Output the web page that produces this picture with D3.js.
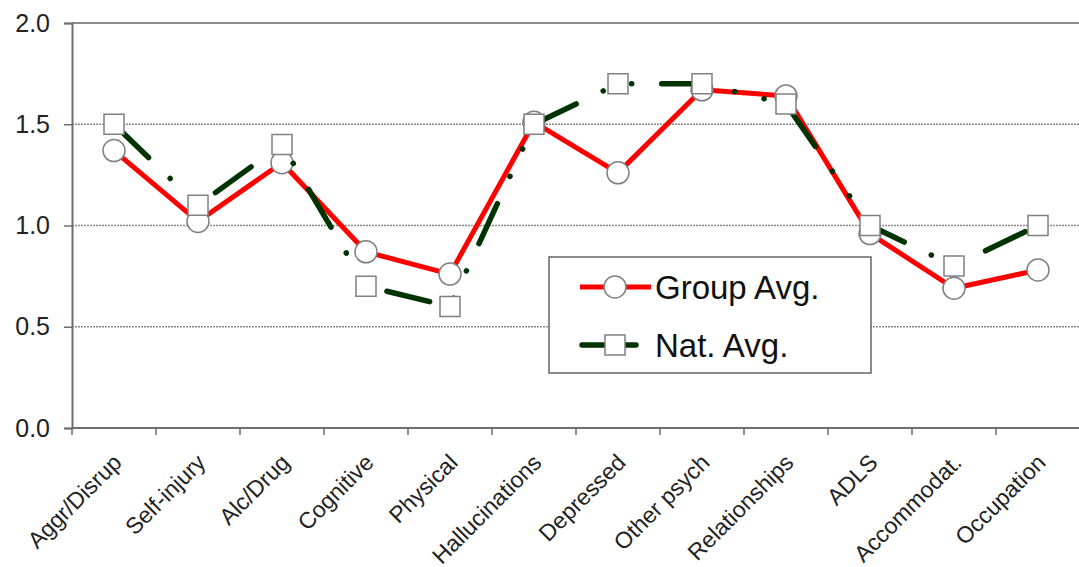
<!DOCTYPE html>
<html><head><meta charset="utf-8">
<script src="https://cdn.jsdelivr.net/npm/d3@7"></script>
<style>html,body{margin:0;padding:0;background:#fff;}svg{display:block;}</style>
</head><body>
<svg id="chart" width="1079" height="567"></svg>
<script>
const categories = ["Aggr/Disrup","Self-injury","Alc/Drug","Cognitive","Physical","Hallucinations","Depressed","Other psych","Relationships","ADLS","Accommodat.","Occupation"];
const groupAvg = [1.37,1.02,1.31,0.87,0.76,1.51,1.26,1.67,1.64,0.96,0.69,0.78];
const natAvg   = [1.5,1.1,1.4,0.7,0.6,1.5,1.7,1.7,1.6,1.0,0.8,1.0];
const yTicks = [0,0.5,1.0,1.5,2.0];
const seriesNames = ["Group Avg.","Nat. Avg."];

(function(){
const svg = d3.select("#chart");
const pL = 72, pR = 1080, pT = 23, pB = 428;
const font = "'Liberation Sans', Arial, sans-serif";

const x = d3.scaleBand().domain(categories).range([pL,pR]).paddingInner(0).paddingOuter(0);
const y = d3.scaleLinear().domain([0,2]).range([pB,pT]);
const cx = d => x(d) + x.bandwidth()/2;

// gridlines
svg.append("g").selectAll("line").data(yTicks.filter(t=>t>0 && t<2)).join("line")
  .attr("x1",pL).attr("x2",1079).attr("y1",d=>y(d)).attr("y2",d=>y(d))
  .attr("stroke","#8a8a8a").attr("stroke-width",1.5).attr("stroke-dasharray","2,1");
// top border
svg.append("line").attr("x1",pL).attr("x2",1079).attr("y1",y(2)).attr("y2",y(2))
  .attr("stroke","#8a8a8a").attr("stroke-width",2);

// y axis
const yAxis = d3.axisLeft(y).tickValues(yTicks).tickFormat(d3.format(".1f")).tickSize(8).tickPadding(14);
const gy = svg.append("g").attr("transform",`translate(${pL},0)`).call(yAxis);
gy.select(".domain").attr("stroke","#6e6e6e").attr("stroke-width",2);
gy.selectAll(".tick line").attr("stroke","#6e6e6e").attr("stroke-width",1.5);
gy.selectAll("text").attr("font-family",font).attr("font-size",25).attr("fill","#222");

// x axis
const gx = svg.append("g").attr("transform",`translate(0,${pB})`);
gx.append("line").attr("x1",pL).attr("x2",1079).attr("stroke","#6e6e6e").attr("stroke-width",2);
gx.selectAll(".tk").data(categories).join("line").attr("class","tk")
  .attr("x1",d=>x(d)).attr("x2",d=>x(d)).attr("y1",0).attr("y2",7)
  .attr("stroke","#6e6e6e").attr("stroke-width",1.5);
gx.selectAll(".lbl").data(categories).join("text").attr("class","lbl")
  .attr("transform",d=>`translate(${cx(d)+9},${36}) rotate(-45)`)
  .attr("text-anchor","end").attr("font-family",font).attr("font-size",23).attr("fill","#222")
  .text(d=>d);

// lines
const lineGen = vals => d3.line().x((d,i)=>cx(categories[i])).y(d=>y(d))(vals);
svg.append("path").attr("d",lineGen(groupAvg)).attr("fill","none")
  .attr("stroke","#ff0000").attr("stroke-width",5).attr("stroke-linejoin","round");
svg.append("g").selectAll("circle").data(groupAvg).join("circle")
  .attr("cx",(d,i)=>cx(categories[i])).attr("cy",d=>y(d)).attr("r",11)
  .attr("fill","#fff").attr("stroke","#808080").attr("stroke-width",1.5);

svg.append("path").attr("d",lineGen(natAvg)).attr("fill","none")
  .attr("stroke","#003300").attr("stroke-width",5.5).attr("stroke-linecap","round")
  .attr("stroke-dasharray","44,30,0.1,30,0.1,30").attr("stroke-dashoffset",-4);
svg.append("g").selectAll("rect").data(natAvg).join("rect")
  .attr("x",(d,i)=>cx(categories[i])-10).attr("y",d=>y(d)-10).attr("width",20).attr("height",20)
  .attr("fill","#fff").attr("stroke","#808080").attr("stroke-width",1.5);

// legend
const lg = svg.append("g");
lg.append("rect").attr("x",549).attr("y",257).attr("width",322).attr("height",116)
  .attr("fill","#fff").attr("stroke","#666").attr("stroke-width",1.5);
lg.append("line").attr("x1",580).attr("x2",651).attr("y1",287).attr("y2",287)
  .attr("stroke","#ff0000").attr("stroke-width",5);
lg.append("circle").attr("cx",615).attr("cy",287).attr("r",11)
  .attr("fill","#fff").attr("stroke","#808080").attr("stroke-width",1.5);
lg.append("line").attr("x1",582).attr("x2",636).attr("y1",345).attr("y2",345)
  .attr("stroke","#003300").attr("stroke-width",5.5).attr("stroke-linecap","round");
lg.append("rect").attr("x",605).attr("y",335).attr("width",20).attr("height",20)
  .attr("fill","#fff").attr("stroke","#808080").attr("stroke-width",1.5);
lg.selectAll("text").data(seriesNames).join("text")
  .attr("x",655).attr("y",(d,i)=>[299,357][i])
  .attr("font-family",font).attr("font-size",33).attr("fill","#111").text(d=>d);
})();
</script>
</body></html>
